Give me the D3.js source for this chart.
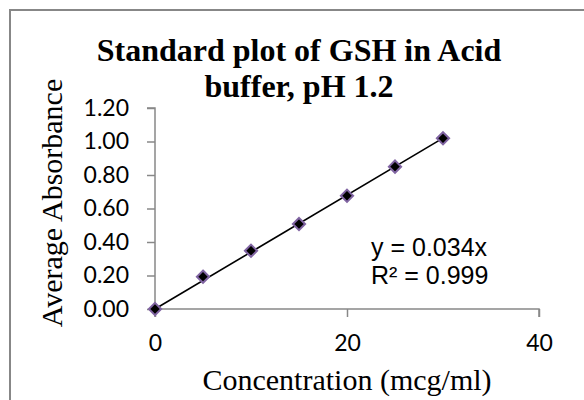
<!DOCTYPE html>
<html>
<head>
<meta charset="utf-8">
<script src="https://cdn.jsdelivr.net/npm/d3@7.9.0/dist/d3.min.js"></script>
<style>
  body { margin: 0; background: #fff; }
</style>
</head>
<body>
<div id="vis"></div>
<script>
// Data
const concentration = [0, 5, 10, 15, 20, 25, 30];
const absorbance = [0, 0.193, 0.348, 0.507, 0.676, 0.85, 1.019];
const xTicks = [0, 20, 40];
const yTicks = [0, 0.2, 0.4, 0.6, 0.8, 1.0, 1.2];
const slope = 0.034;
const titleLines = ["Standard plot of GSH in Acid", "buffer, pH 1.2"];
const equationLines = ["y = 0.034x", "R\u00b2 = 0.999"];

const width = 584;
const height = 400;

const xScale = d3.scaleLinear().domain([0, 40]).range([155, 539]);
const yScale = d3.scaleLinear().domain([0, 1.2]).range([309, 108]);

const svg = d3
  .select("#vis")
  .append("svg")
  .attr("width", width)
  .attr("height", height);

// outer chart border (runs off right/bottom)
svg
  .append("rect")
  .attr("x", 10)
  .attr("y", 10)
  .attr("width", 600)
  .attr("height", 420)
  .attr("fill", "none")
  .attr("stroke", "#878787")
  .attr("stroke-width", 2);

// title
svg
  .append("text")
  .attr("text-anchor", "middle")
  .attr("font-family", "Liberation Serif")
  .attr("font-weight", "bold")
  .attr("font-size", 32)
  .attr("fill", "#000")
  .selectAll("tspan")
  .data(titleLines)
  .enter()
  .append("tspan")
  .attr("x", 299)
  .attr("y", (d, i) => 61 + i * 36)
  .text((d) => d);

// axes
const xAxis = svg
  .append("g")
  .attr("transform", `translate(0,${yScale(0)})`)
  .call(d3.axisBottom(xScale).tickValues(xTicks).tickSize(8).tickPadding(18).tickFormat(d3.format("d")));

const yAxis = svg
  .append("g")
  .attr("transform", `translate(${xScale(0)},0)`)
  .call(d3.axisLeft(yScale).tickValues(yTicks).tickSize(8).tickPadding(18).tickFormat(d3.format(".2f")));

[xAxis, yAxis].forEach((g) => {
  g.select(".domain").attr("stroke", "#888").attr("stroke-width", 1.5);
  g.selectAll(".tick line").attr("stroke", "#888").attr("stroke-width", 1.5);
  g.selectAll(".tick text")
    .attr("fill", "#000")
    .attr("font-family", "Lato")
    .attr("font-size", 23);
});
xAxis.select(".domain").attr("d", `M${xScale(0)},8V0H${xScale(40)}V8`);
yAxis.select(".domain").attr("d", `M-8,${yScale(1.2)}H0V${yScale(0)}`);
xAxis.selectAll(".tick text").attr("dy", "0.71em");

// axis titles
svg
  .append("text")
  .attr("x", 347)
  .attr("y", 390)
  .attr("text-anchor", "middle")
  .attr("font-family", "Liberation Serif")
  .attr("font-size", 30)
  .attr("fill", "#000")
  .text("Concentration (mcg/ml)");

svg
  .append("text")
  .attr("transform", "translate(62,203) rotate(-90)")
  .attr("text-anchor", "middle")
  .attr("font-family", "Liberation Serif")
  .attr("font-size", 30)
  .attr("fill", "#000")
  .text("Average Absorbance");

// trend line
const line = d3
  .line()
  .x((d) => xScale(d))
  .y((d) => yScale(d * slope));

svg
  .append("path")
  .attr("fill", "none")
  .attr("stroke", "#000")
  .attr("stroke-width", 1.6)
  .attr("d", line([concentration[0], concentration[concentration.length - 1]]));

// markers
svg
  .append("g")
  .selectAll("path")
  .data(concentration)
  .enter()
  .append("path")
  .attr("transform", (d, i) => `translate(${xScale(d)},${yScale(absorbance[i])})`)
  .attr("d", d3.symbol(d3.symbolDiamond2, 95)())
  .attr("fill", "#000")
  .attr("stroke", "#8064a2")
  .attr("stroke-width", 2);

// equation
svg
  .append("text")
  .attr("font-family", "Liberation Sans")
  .attr("font-size", 25)
  .attr("fill", "#000")
  .selectAll("tspan")
  .data(equationLines)
  .enter()
  .append("tspan")
  .attr("x", 371)
  .attr("y", (d, i) => 256 + i * 28)
  .text((d) => d);
</script>
</body>
</html>
